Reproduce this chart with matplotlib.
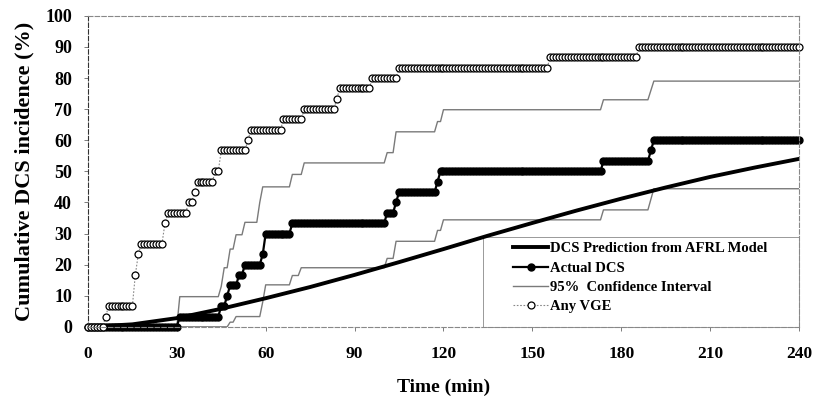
"""Cumulative DCS incidence versus time: AFRL model, actual DCS and VGE."""

import numpy
import matplotlib
matplotlib.use('Agg')
from matplotlib import pyplot
from matplotlib.patches import Rectangle


# Any VGE: minute at which each new level starts, and the level (%).
vge_start = [0, 6, 7, 16, 17, 18, 26, 27, 34, 36, 37, 43, 45, 54, 55, 66,
             73, 84, 85, 96, 105, 156, 186]
vge_level = [0, 3.3, 6.7, 16.7, 23.3, 26.7, 33.3, 36.7, 40, 43.3, 46.7, 50,
             56.7, 60, 63.3, 66.7, 70, 73.3, 76.7, 80, 83.3, 86.7, 90]

# Actual DCS.
dcs_start = [0, 31, 45, 47, 48, 51, 53, 59, 60, 69, 101, 104, 105, 118, 119,
             174, 190, 191]
dcs_level = [0, 3.3, 6.7, 10, 13.3, 16.7, 20, 23.3, 30, 33.3, 36.7, 40, 43.3,
             46.7, 50, 53.3, 56.7, 60]

# 95% confidence interval, upper and lower bounds.
ci_hi_start = [0, 31, 45, 46, 48, 50, 53, 58, 59, 69, 73, 101, 104, 118, 120,
               174, 190, 191]
ci_hi_level = [0, 9.7, 13, 19, 25, 29.6, 33.6, 40, 45, 49, 52.7, 56, 62.7,
               66, 69.8, 73, 76, 79]
ci_lo_start = [0, 48, 50, 59, 60, 69, 72, 101, 104, 118, 120, 174, 190, 191]
ci_lo_level = [0, 1.5, 3.3, 8, 13.5, 16.5, 19, 22, 27.5, 31, 34.4, 37.6, 41,
               44.4]

# DCS prediction from the AFRL model.
pred_time = [0, 15, 30, 45, 60, 75, 90, 105, 120, 135, 150, 165, 180, 195,
             210, 225, 240]
pred_value = [0, 0.8, 2.8, 5.8, 9.2, 12.8, 16.7, 20.8, 25.0, 29.3, 33.4,
              37.4, 41.2, 44.8, 48.2, 51.2, 54.0]

xticks = [0, 30, 60, 90, 120, 150, 180, 210, 240]
yticks = [0, 10, 20, 30, 40, 50, 60, 70, 80, 90, 100]


def per_minute(starts, levels, minutes):
    """Return the step level recorded at each minute."""
    idx = numpy.searchsorted(starts, minutes, side='right') - 1
    return numpy.asarray(levels)[idx]


minutes = numpy.arange(0, 241)

pyplot.rc('font', family='Liberation Serif', weight='bold')
pyplot.rc('axes', labelweight='bold')
fig = pyplot.figure(figsize=(8.14, 4.05), dpi=100)
ax = fig.add_axes([0.108, 0.193, 0.8736, 0.768])

gray = '#7a7a7a'
ax.plot(minutes, per_minute(ci_hi_start, ci_hi_level, minutes),
        color=gray, linewidth=1.0, label='95%  Confidence Interval')
ax.plot(minutes, per_minute(ci_lo_start, ci_lo_level, minutes),
        color=gray, linewidth=1.0)
ax.plot(pred_time, pred_value, color='black', linewidth=2.8,
        label='DCS Prediction from AFRL Model')
ax.plot(minutes, per_minute(dcs_start, dcs_level, minutes),
        color='black', linewidth=1.6, marker='o', markersize=5.0,
        label='Actual DCS', clip_on=False)
ax.plot(minutes, per_minute(vge_start, vge_level, minutes),
        color='#888888', linewidth=0.8, linestyle=(0, (1.5, 1.5)),
        marker='o', markersize=5.0, markerfacecolor='white',
        markeredgecolor='black', markeredgewidth=0.9,
        label='Any VGE', clip_on=False)

ax.set_xlim(0, 240)
ax.set_ylim(0, 100)
ax.set_xticks(xticks)
ax.set_yticks(yticks)
ax.tick_params(axis='x', direction='out', length=3, width=0.6,
               color='#666666', pad=11, labelsize=12.5)
ax.tick_params(axis='y', direction='out', length=3, width=0.6,
               color='#666666', pad=8.5, labelsize=13)
for side, spine in ax.spines.items():
    spine.set_linestyle((0, (4, 2)))
    spine.set_linewidth(0.8)
    spine.set_color('#333333' if side == 'left' else '#888888')

ax.set_xlabel('Time (min)', fontsize=14, labelpad=12)
ax.set_ylabel('Cumulative DCS incidence (%)', fontsize=16, labelpad=8)

# Legend in the lower right corner, with its own thin box.
handles, labels = ax.get_legend_handles_labels()
order = [1, 2, 0, 3]
ax.legend([handles[i] for i in order], [labels[i] for i in order],
          loc='upper left', bbox_to_anchor=(0.598, 0.272),
          frameon=False, borderpad=0, borderaxespad=0, numpoints=1,
          handlelength=2.4, handletextpad=0.15, labelspacing=0.42,
          prop={'family': 'Liberation Serif', 'weight': 'bold',
                'size': 10.5})
ax.add_patch(Rectangle((0.556, 0.0), 0.444, 0.289, transform=ax.transAxes,
                       fill=False, edgecolor='#999999', linewidth=0.7,
                       clip_on=False))

fig.savefig('out.png', dpi=100)
